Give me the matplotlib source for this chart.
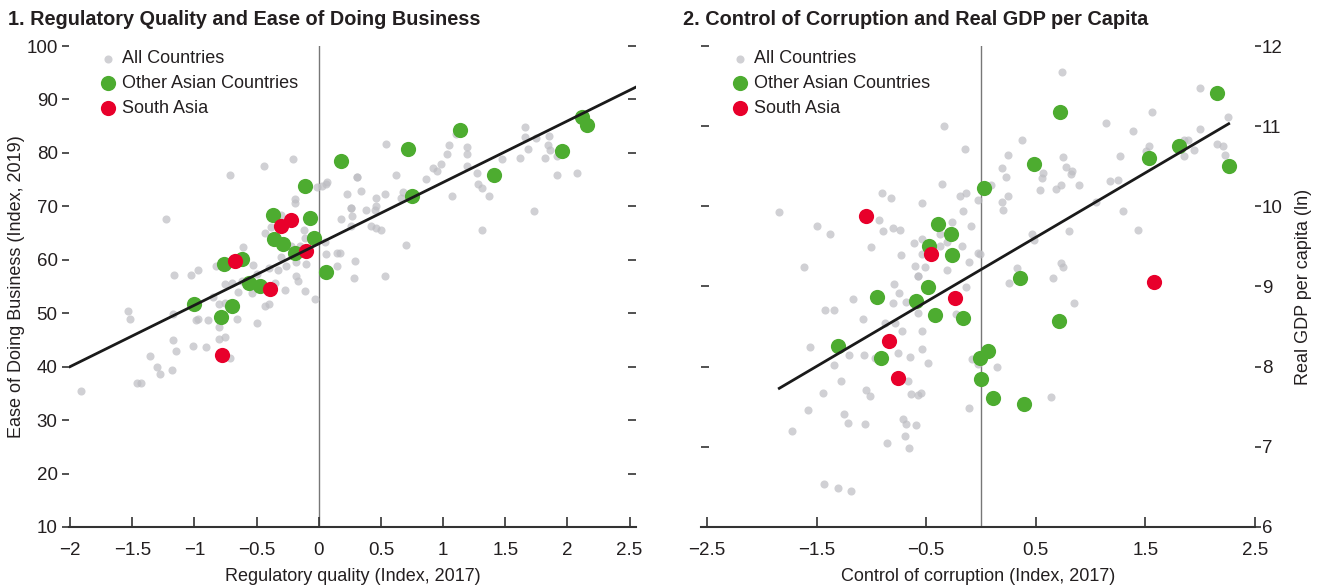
import matplotlib
matplotlib.use("Agg")
import matplotlib.pyplot as plt

plt.rcParams['font.family'] = ['Liberation Sans', 'DejaVu Sans']

# panel 1: regulatory quality (x) vs ease of doing business (y)
all1_x = [-1.23, -0.71, -0.44, -0.21, -0.01, 0.06, -0.19, -0.19, -0.30, -0.38, -0.43, -0.12, -0.11, -0.30, -0.22,
          -0.15, 0.05, 0.06, -0.61, -1.16, -1.03, -0.97, -0.83, -0.53, -0.40, -0.33, -0.26, -0.18, -0.10, -0.75,
          -0.70, -0.62, -0.50, -0.35, -0.18, -0.17, -0.65, -0.54, -0.27, -0.11, -0.03, -0.85, -0.80, -0.75, -0.43,
          -0.40, -1.53, -1.52, -1.17, -0.99, -0.97, -0.89, -0.80, -0.66, -0.50, -1.17, -1.15, -1.36, -1.01, -0.91,
          -0.80, -0.75, -0.71, -1.30, -1.28, -1.18, -1.46, -1.43, -1.91, 0.54, 1.05, 1.10, 1.19, 1.03, 1.19, 0.98,
          0.92, 0.95, 1.19, 0.62, 0.86, 1.27, 1.28, 1.31, 1.47, 1.66, 1.66, 1.75, 1.85, 1.84, 1.86, 1.68, 1.62,
          1.82, 1.92, 1.92, 2.08, 1.37, 1.73, 1.07, 1.31, 0.70, 0.31, 0.31, 0.34, 0.23, 0.46, 0.53, 0.46, 0.45,
          0.26, 0.26, 0.38, 0.27, 0.18, 0.42, 0.46, 0.50, 0.66, 0.68, 0.07, 0.03, 0.26, 0.15, 0.17, 0.15, 0.29,
          0.28, 0.53]
all1_y = [67.6, 75.8, 77.5, 78.8, 73.6, 74.1, 71.3, 70.6, 68.3, 66.2, 65.1, 65.5, 64.0, 60.6, 62.5,
          62.5, 63.4, 61.0, 62.3, 57.1, 57.1, 58.0, 58.75, 59.0, 58.4, 58.0, 58.9, 59.5, 59.3, 55.4,
          55.7, 56.0, 57.3, 55.7, 57.0, 56.1, 53.9, 53.7, 54.3, 54.2, 52.7, 53.1, 51.8, 52.0, 51.4,
          51.8, 50.5, 49.0, 49.9, 48.8, 49.0, 48.8, 47.5, 49.0, 48.2, 44.9, 43.0, 42.0, 43.9, 43.6,
          45.2, 45.6, 41.7, 40.0, 38.7, 39.4, 37.0, 37.0, 35.5, 81.6, 81.4, 83.5, 81.1, 79.7, 79.7, 77.9,
          77.1, 76.6, 77.5, 75.8, 75.2, 76.3, 74.1, 73.4, 78.8, 84.8, 82.9, 82.7, 83.1, 81.4, 80.5, 80.7, 79.0,
          79.0, 79.4, 75.8, 76.2, 71.9, 69.1, 71.9, 65.5, 62.7, 75.4, 75.4, 72.8, 72.3, 71.5, 72.4, 70.0, 69.4,
          69.6, 69.6, 69.4, 68.1, 67.6, 66.4, 66.0, 65.5, 71.5, 72.6, 74.5, 73.75, 66.3, 61.2, 61.2, 58.9, 59.7,
          56.5, 56.9]
asia1_x = [-1.00, -0.79, -0.76, -0.70, -0.62, -0.56, -0.47, -0.37, -0.36, -0.29, -0.19, -0.11, -0.07, -0.04,
           0.06, 0.18, 0.72, 0.75, 1.14, 1.41, 1.96, 2.12, 2.16]
asia1_y = [51.7, 49.2, 59.3, 51.3, 60.2, 55.6, 55.0, 68.3, 63.8, 63.0, 61.2, 73.75, 67.9, 64.0,
           57.7, 78.4, 80.7, 72.0, 84.2, 75.8, 80.3, 86.7, 85.3]
south1_x = [-0.78, -0.67, -0.39, -0.30, -0.22, -0.10]
south1_y = [42.1, 59.8, 54.6, 66.4, 67.4, 61.6]
fit1_x = [-2.0, 2.55]
fit1_y = [40.0, 92.3]

# panel 2: control of corruption (x) vs real GDP per capita (y)
all2_x = [-0.34, -0.15, -0.36, -0.90, -0.82, -0.54, -0.19, -0.14, -1.84, -1.50, -1.38, -0.93, -0.89, -0.80, -0.74,
          -0.26, -0.16, -0.09, -0.37, -0.31, -0.17, -0.61, -0.54, -1.00, -0.73, -0.54, -0.37, -1.61, -0.60, -0.51,
          -0.31, -0.11, -0.03, -0.57, -0.57, 0.74, 2.00, 1.56, 1.14, 1.39, 2.00, 2.25, 0.37, 0.25, 0.19, 0.23,
          0.57, 0.56, 0.75, 0.78, 0.83, 0.82, 0.89, 0.73, 0.68, 0.54, 0.09, 0.25, 0.19, 0.20, -0.03, 1.27, 1.53,
          1.51, 1.85, 1.89, 1.94, 1.85, 2.15, 2.21, 2.23, 1.18, 1.25, 1.05, 1.30, 1.43, 0.80, 0.47, 0.48, -0.01,
          0.33, 0.73, 0.75, 0.66, 0.26, 0.85, 0.15, -0.03, 0.64, -0.79, -0.75, -1.17, -0.80, -1.42, -1.34, -0.68,
          -0.14, -0.23, -0.57, -1.08, -0.88, -0.78, -0.72, -0.54, -1.56, -1.20, -1.07, -0.97, -0.76, -0.65, -0.54,
          -0.48, -1.34, -0.08, -1.28, -0.67, -1.44, -1.05, -1.01, -0.64, -0.57, -0.55, -0.11, -1.58, -1.25, -1.21,
          -1.06, -0.71, -0.68, -0.59, -1.72, -0.69, -0.86, -0.66, -1.43, -1.30, -1.19]
all2_y = [11.0, 10.71, 10.275, 10.17, 10.11, 10.04, 10.125, 10.17, 9.925, 9.76, 9.66, 9.825, 9.69, 9.725, 9.71,
          9.81, 9.94, 9.75, 9.66, 9.55, 9.51, 9.54, 9.59, 9.49, 9.39, 9.40, 9.50, 9.24, 9.26, 9.24,
          9.20, 9.31, 9.42, 9.125, 9.125, 11.675, 11.475, 11.175, 11.04, 10.94, 10.97, 11.11, 10.825, 10.64, 10.475, 10.36,
          10.42, 10.35, 10.61, 10.49, 10.44, 10.40, 10.26, 10.26, 10.22, 10.20, 10.26, 10.125, 10.05, 9.96, 10.075, 10.625, 10.75,
          10.69, 10.825, 10.825, 10.70, 10.625, 10.775, 10.75, 10.64, 10.31, 10.325, 10.05, 9.94, 9.71, 9.69, 9.66, 9.575, 9.41,
          9.225, 9.29, 9.24, 9.11, 9.04, 8.79, 8.0, 8.03, 7.625, 9.025, 8.925, 8.84, 8.79, 8.71, 8.71, 8.81,
          8.99, 8.66, 8.675, 8.60, 8.54, 8.54, 8.45, 8.45, 8.24, 8.14, 8.14, 8.11, 8.175, 8.125, 8.225,
          8.04, 8.025, 8.10, 7.825, 7.825, 7.675, 7.71, 7.64, 7.66, 7.65, 7.675, 7.49, 7.46, 7.41, 7.30,
          7.29, 7.35, 7.29, 7.275, 7.20, 7.14, 7.05, 6.99, 6.54, 6.49, 6.45]
asia2_x = [-1.30, -0.95, -0.91, -0.59, -0.48, -0.42, -0.47, -0.39, -0.27, -0.26, -0.16, 0.06, 0.00, 0.11,
           0.39, 0.36, 0.71, 0.03, 0.48, 0.72, 1.53, 1.81, 2.15, 2.26, -0.01]
asia2_y = [8.26, 8.875, 8.11, 8.825, 8.99, 8.64, 9.51, 9.775, 9.66, 9.39, 8.61, 8.19, 7.85, 7.61,
           7.54, 9.11, 8.575, 10.225, 10.525, 11.175, 10.6, 10.75, 11.41, 10.5, 8.11]
south2_x = [-1.05, -0.84, -0.76, -0.46, -0.24, 1.58]
south2_y = [9.875, 8.325, 7.86, 9.40, 8.86, 9.05]
fit2_x = [-1.84, 2.26]
fit2_y = [7.73, 11.03]

grey = '#bdbdc2'
green = '#4dac30'
red = '#e8002b'
tick_col = '#333333'
txt_col = '#231f20'

fig = plt.figure(figsize=(13.23, 5.86), dpi=100)
ax1 = fig.add_axes([0.052, 0.1007, 0.4286, 0.8208])
ax2 = fig.add_axes([0.5302, 0.1007, 0.4184, 0.8208])


def draw(ax, ax_x, ax_y, as_x, as_y, s_x, s_y, f_x, f_y):
    ax.axvline(0, color='#777777', lw=1.0, zorder=1)
    ax.scatter(ax_x, ax_y, s=34, color=grey, alpha=0.7, lw=0, zorder=2, label='All Countries')
    ax.scatter(as_x, as_y, s=120, color=green, lw=0, zorder=3, label='Other Asian Countries')
    ax.scatter(s_x, s_y, s=120, color=red, lw=0, zorder=4, label='South Asia')
    ax.plot(f_x, f_y, color='#1a1a1a', lw=2.0, zorder=5)
    for side in ['left', 'right', 'top']:
        ax.spines[side].set_visible(False)
    ax.spines['bottom'].set_color(tick_col)
    ax.spines['bottom'].set_linewidth(1.5)
    ax.tick_params(axis='x', direction='in', length=7, width=1.2, color=tick_col, labelsize=13.5,
                   labelcolor=txt_col, pad=11)
    leg = ax.legend(loc='upper left', bbox_to_anchor=(0.035, 1.006), frameon=False, fontsize=13,
                    handletextpad=0.15, labelspacing=0.42, borderaxespad=0, handlelength=1.3,
                    labelcolor=txt_col)
    leg.legend_handles[0].set_sizes([34])
    leg.legend_handles[0].set_alpha(0.7)


draw(ax1, all1_x, all1_y, asia1_x, asia1_y, south1_x, south1_y, fit1_x, fit1_y)
ax1.set_xlim(-2.01, 2.55)
ax1.set_ylim(10, 100)
ax1.set_xticks([-2, -1.5, -1, -0.5, 0, 0.5, 1, 1.5, 2, 2.5])
ax1.set_xticklabels(['\u22122', '\u22121.5', '\u22121', '\u22120.5', '0', '0.5', '1', '1.5', '2', '2.5'])
ax1.set_yticks(range(10, 101, 10))
ax1.tick_params(axis='y', direction='out', length=5, width=1.2, color=tick_col, labelsize=13.5,
                labelcolor=txt_col, pad=3)
sec1 = ax1.secondary_yaxis('right')
sec1.set_yticks(range(10, 101, 10))
sec1.tick_params(axis='y', direction='in', length=6, width=1.2, color=tick_col, labelright=False)
sec1.spines['right'].set_visible(False)
ax1.set_xlabel('Regulatory quality (Index, 2017)', fontsize=13, color=txt_col, labelpad=6)
ax1.set_ylabel('Ease of Doing Business (Index, 2019)', fontsize=13, color=txt_col, labelpad=1)
ax1.set_title('1. Regulatory Quality and Ease of Doing Business', loc='left', x=-0.108,
              fontsize=14.3, fontweight='bold', color=txt_col, pad=15)

draw(ax2, all2_x, all2_y, asia2_x, asia2_y, south2_x, south2_y, fit2_x, fit2_y)
ax2.set_xlim(-2.55, 2.5)
ax2.set_ylim(6, 12)
ax2.set_xticks([-2.5, -1.5, -0.5, 0.5, 1.5, 2.5])
ax2.set_xticklabels(['\u22122.5', '\u22121.5', '\u22120.5', '0.5', '1.5', '2.5'])
ax2.set_yticks(range(6, 13))
ax2.yaxis.tick_right()
ax2.yaxis.set_label_position('right')
ax2.tick_params(axis='y', direction='out', length=4, width=1.2, color=tick_col, labelsize=13.5,
                labelcolor=txt_col, pad=1)
sec2 = ax2.secondary_yaxis('left')
sec2.set_yticks(range(6, 13))
sec2.tick_params(axis='y', direction='in', length=6, width=1.2, color=tick_col, labelleft=False)
sec2.spines['left'].set_visible(False)
ax2.set_xlabel('Control of corruption (Index, 2017)', fontsize=13, color=txt_col, labelpad=6)
ax2.set_ylabel('Real GDP per capita (ln)', fontsize=13, color=txt_col, labelpad=9)
ax2.set_title('2. Control of Corruption and Real GDP per Capita', loc='left', x=-0.033,
              fontsize=14.3, fontweight='bold', color=txt_col, pad=15)

fig.savefig('out.png', dpi=100)
